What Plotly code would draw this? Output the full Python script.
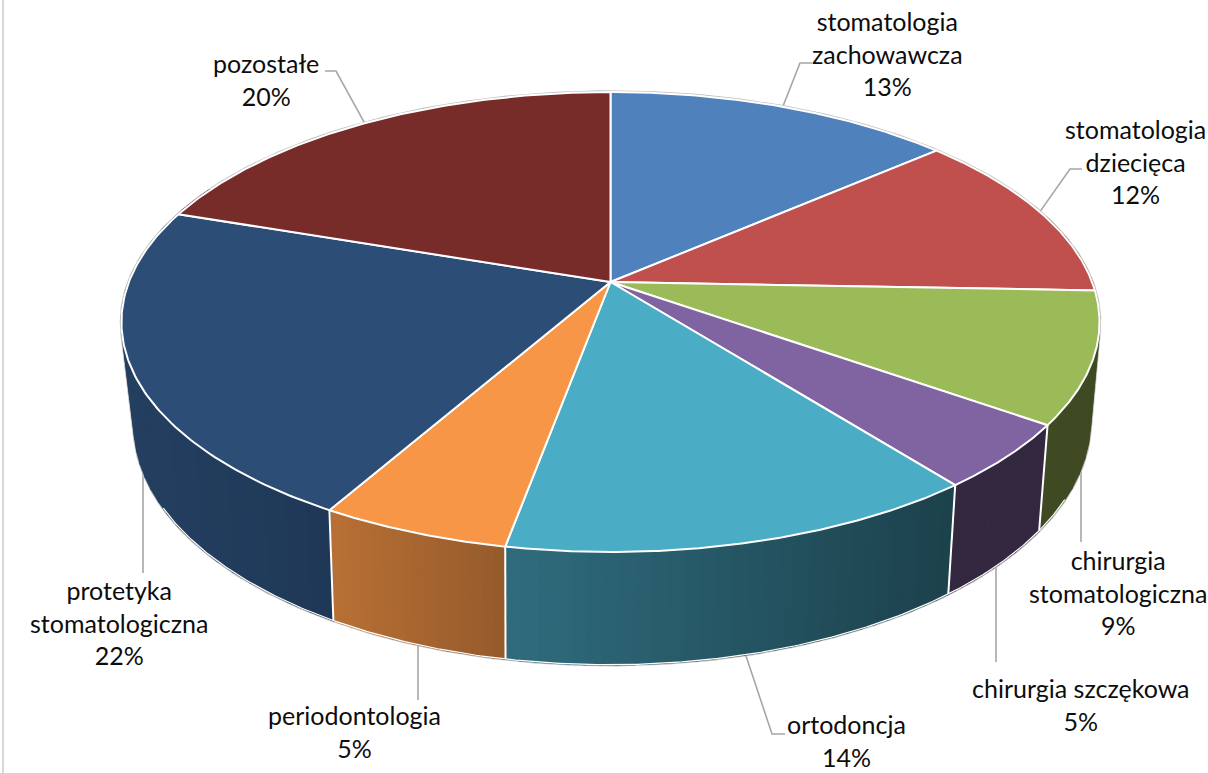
import numpy as np
import plotly.graph_objects as go

categories = ["stomatologia<br>zachowawcza", "stomatologia<br>dziecięca", "chirurgia<br>stomatologiczna",
              "chirurgia szczękowa", "ortodoncja", "periodontologia", "protetyka<br>stomatologiczna", "pozostałe"]
shares = [13.6, 12.0, 9.2, 4.6, 13.5, 5.35, 21.95, 19.8]
percent_labels = [13, 12, 9, 5, 14, 5, 22, 20]
top_colors = ["#4F81BD", "#C0504D", "#9BBB59", "#8064A2", "#4BACC6", "#F79646", "#2C4D75", "#772C2A"]
side_left = ["#3A5F8C", "#8E3B39", "#3F4A22", "#33283F", "#2F6C7E", "#B87035", "#243F60", "#58201F"]
side_right = ["#3A5F8C", "#8E3B39", "#3F4A22", "#33283F", "#1C414B", "#955A2B", "#1F3858", "#58201F"]

# label centre (x, y of the block middle) and leader elbow path, in page pixels
label_pos = [(887, 53), (1135, 161), (1118, 592), (1081, 704), (846, 740), (354, 731), (119, 622), (266, 79)]
leader_path = [[(800, 63), (812, 63)], [(1070, 169), (1082, 169)], [(1081, 542)], [(996, 662)],
               [(772, 734), (785, 734)], [(418, 700)], [(143, 573)], [(336, 71), (325, 71)]]
vertical = [False, False, True, True, False, True, True, False]

K = 0.174
TOP = dict(cx=610.5, cy=282.0, a=481.6, b=223.0, pull=0.0)
BOT = dict(cx=609.0, cy=379.0, a=474.0, b=236.0, pull=8.0)


def project(theta, p):
    s, c = np.sin(theta), np.cos(theta)
    w = 1 + K * c
    x = p["cx"] + p["a"] * s / w + p["pull"] * np.where(s < 0, 1 + c, 0.0)
    return x, p["cy"] - p["b"] * c / w


def hex2rgb(h):
    return np.array([int(h[i:i + 2], 16) for i in (1, 3, 5)], dtype=float)


def mix(c1, c2, t):
    v = hex2rgb(c1) * (1 - t) + hex2rgb(c2) * t
    return "rgb(%d,%d,%d)" % tuple(np.round(v))


def hull(xs, ys):
    pts = sorted(set(zip(np.round(xs, 2).tolist(), np.round(ys, 2).tolist())))
    def half(points):
        out = []
        for q in points:
            while len(out) > 1 and ((out[-1][0] - out[-2][0]) * (q[1] - out[-2][1])
                                    - (out[-1][1] - out[-2][1]) * (q[0] - out[-2][0])) <= 0:
                out.pop()
            out.append(q)
        return out
    lo, up = half(pts), half(pts[::-1])
    ring = lo[:-1] + up
    return [p[0] for p in ring] + [ring[0][0]], [p[1] for p in ring] + [ring[0][1]]


edges = np.cumsum([0] + shares) / sum(shares) * 2 * np.pi
mids = (edges[:-1] + edges[1:]) / 2
fig = go.Figure()


def poly(x, y, fill, line=None, width=0):
    fig.add_trace(go.Scatter(x=x, y=y, mode="lines", fill="toself", fillcolor=fill,
                             line=dict(color=line or fill, width=width), hoverinfo="skip", showlegend=False))


def path(x, y, color, width):
    fig.add_trace(go.Scatter(x=x, y=y, mode="lines", line=dict(color=color, width=width),
                             hoverinfo="skip", showlegend=False))


# chart frame edge
path([3, 3], [0, 773], "#D9D9D9", 2)

# leader lines (under the pie)
for i, m in enumerate(mids):
    front = np.cos(m) < 0.0
    sx, sy = project(m, BOT if front else TOP)
    if vertical[i]:
        sx = leader_path[i][0][0]
        sy -= 10
    xs = [float(sx)] + [p[0] for p in leader_path[i]]
    ys = [float(sy)] + [p[1] for p in leader_path[i]]
    path(xs, ys, "#A6A6A6", 1.6)

# outer grey silhouette
t_all = np.linspace(0, 2 * np.pi, 721)
tx, ty = project(t_all, TOP)
t_front = np.linspace(np.radians(60), np.radians(300), 481)
bx, by = project(t_front, BOT)
hx, hy = hull(np.r_[tx, bx], np.r_[ty, by])
poly(hx, hy, "#1F3858", "#BFBFBF", 3.5)

# side wall, shaded in narrow strips
low, high = np.radians(72), np.radians(296)
for i in range(len(shares)):
    a, b = edges[i], edges[i + 1]
    if b <= np.radians(90) or a >= np.radians(290):
        continue
    a = low if a < np.radians(100) else a
    b = high if b > np.radians(285) else b
    n = 30 if shares[i] > 10 else 16
    grid = np.linspace(a, b, n + 1)
    xa = project(grid, BOT)[0]
    xmin, xmax = xa.min(), xa.max()
    for j in range(n):
        g = np.linspace(grid[j], grid[j + 1] + 0.004, 4)
        x1, y1 = project(g, TOP)
        x2, y2 = project(g[::-1], BOT)
        xs, ys = np.r_[x1, x2, x1[0]], np.r_[y1, y2, y1[0]]
        t = (xa[j] + xa[j + 1]) / 2
        color = mix(side_left[i], side_right[i], (t - xmin) / max(xmax - xmin, 1))
        poly(xs, ys, color, color, 1.6)

# white rim under the wall and vertical joints
g = np.linspace(np.radians(118), np.radians(240), 300)
path(*project(g, BOT), "#FFFFFF", 1.2)
for e in edges[1:]:
    if np.radians(100) < e < np.radians(285):
        x1, y1 = project(e, TOP)
        x2, y2 = project(e, BOT)
        path([float(x1), float(x2)], [float(y1), float(y2)], "#FFFFFF", 2)

# top faces
for i in range(len(shares)):
    g = np.linspace(edges[i], edges[i + 1], 120)
    ax, ay = project(g, TOP)
    xs = np.r_[TOP["cx"], ax, TOP["cx"]]
    ys = np.r_[TOP["cy"], ay, TOP["cy"]]
    poly(xs, ys, top_colors[i], "#FFFFFF", 2)

# labels
annotations = []
for i, c in enumerate(categories):
    annotations.append(dict(x=label_pos[i][0], y=label_pos[i][1], xref="x", yref="y",
                            text=f"{c}<br>{percent_labels[i]}%",
                            showarrow=False, xanchor="center", yanchor="middle", align="center",
                            font=dict(family="Lato", size=25, color="#0D0D0D")))

fig.update_layout(width=1208, height=773, margin=dict(l=0, r=0, t=0, b=0), autosize=False,
                  paper_bgcolor="white", plot_bgcolor="white", annotations=annotations, showlegend=False,
                  xaxis=dict(range=[0, 1208], visible=False, fixedrange=True),
                  yaxis=dict(range=[773, 0], visible=False, fixedrange=True))
fig.write_html("out.html", config=dict(displayModeBar=False),
               post_script="document.body.style.margin='0';document.body.style.overflow='hidden';")
